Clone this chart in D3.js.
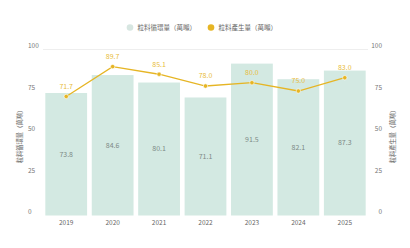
<!DOCTYPE html>
<html><head><meta charset="utf-8">
<script src="https://cdn.jsdelivr.net/npm/d3@7"></script>
<style>body{margin:0;background:#fff}svg{display:block}</style>
</head><body>
<svg id="c" width="410" height="248"></svg>
<script>
const years = ["2019","2020","2021","2022","2023","2024","2025"];
const recycled = [73.8, 84.6, 80.1, 71.1, 91.5, 82.1, 87.3];
const produced = [71.7, 89.7, 85.1, 78.0, 80.0, 75.0, 83.0];
const yTicks = [0, 25, 50, 75, 100];
const seriesNames = ["粒料循環量（萬噸）", "粒料產生量（萬噸）"];
const leftTitle = "粒料循環量（萬噸）";
const rightTitle = "粒料產生量（萬噸）";

const font = "'Noto Sans CJK TC','Noto Sans',sans-serif";
const barColor = "#d3e9e2";
const lineColor = "#e6b524";
const svg = d3.select("#c");
const m = {l: 43, r: 368, t: 49.5, b: 215.5};

const x = d3.scaleBand().domain(years).range([m.l, m.r]).paddingInner(0.1).paddingOuter(0.05);
const y = d3.scaleLinear().domain([0, 100]).range([m.b, m.t]);

// top grid line
svg.append("line").attr("x1", m.l).attr("x2", m.r).attr("y1", y(100)).attr("y2", y(100))
  .attr("stroke", "#eeeeee").attr("stroke-width", 1);

// bars
svg.selectAll("rect.bar").data(recycled).enter().append("rect")
  .attr("x", (d,i) => x(years[i])).attr("width", x.bandwidth())
  .attr("y", d => y(d)).attr("height", d => y(0) - y(d))
  .attr("fill", barColor);

// bar labels
svg.selectAll("text.bl").data(recycled).enter().append("text")
  .attr("x", (d,i) => x(years[i]) + x.bandwidth()/2)
  .attr("y", d => (y(d) + y(0))/2)
  .attr("dy", "0.35em").attr("text-anchor", "middle")
  .attr("font-family", font).attr("font-size", 7).attr("fill", "#7d8a86")
  .text(d => d.toFixed(1));

// line
const cx = i => x(years[i]) + x.bandwidth()/2;
const line = d3.line().x((d,i) => cx(i)).y(d => y(d));
svg.append("path").datum(produced).attr("d", line)
  .attr("fill", "none").attr("stroke", lineColor).attr("stroke-width", 1.3);
svg.selectAll("circle.pt").data(produced).enter().append("circle")
  .attr("cx", (d,i) => cx(i)).attr("cy", d => y(d)).attr("r", 2.2)
  .attr("fill", lineColor).attr("stroke", "#fff").attr("stroke-width", 0.6);
svg.selectAll("text.ll").data(produced).enter().append("text")
  .attr("x", (d,i) => cx(i)).attr("y", d => y(d) - 10)
  .attr("dy", "0.35em").attr("text-anchor", "middle")
  .attr("font-family", font).attr("font-size", 7).attr("fill", "#e8bc3a")
  .text(d => d.toFixed(1));

// x axis labels
svg.selectAll("text.xl").data(years).enter().append("text")
  .attr("x", d => x(d) + x.bandwidth()/2).attr("y", 223)
  .attr("dy", "0.35em").attr("text-anchor", "middle")
  .attr("font-family", font).attr("font-size", 6.5).attr("fill", "#666")
  .text(d => d);

// y axis labels
svg.selectAll("text.yl").data(yTicks).enter().append("text")
  .attr("x", 28).attr("y", d => y(d) - 3.5).attr("dy", "0.35em")
  .attr("text-anchor", "start")
  .attr("font-family", font).attr("font-size", 6.5).attr("fill", "#777")
  .text(d => d);
svg.selectAll("text.yr").data(yTicks).enter().append("text")
  .attr("x", 382).attr("y", d => y(d) - 3.5).attr("dy", "0.35em")
  .attr("text-anchor", "end")
  .attr("font-family", font).attr("font-size", 6.5).attr("fill", "#777")
  .text(d => d);

// axis titles
svg.append("text").attr("transform", "translate(19.5,135) rotate(-90)")
  .attr("text-anchor", "middle").attr("dy", "0.35em")
  .attr("font-family", font).attr("font-size", 6.3).attr("fill", "#666").text(leftTitle);
svg.append("text").attr("transform", "translate(392.5,135) rotate(-90)")
  .attr("text-anchor", "middle").attr("dy", "0.35em")
  .attr("font-family", font).attr("font-size", 6.3).attr("fill", "#666").text(rightTitle);

// legend
const lg = [{x: 130, c: "#d7e6e1"}, {x: 211, c: lineColor}];
lg.forEach((l, i) => {
  svg.append("circle").attr("cx", l.x).attr("cy", 27.5).attr("r", 3.3).attr("fill", l.c);
  svg.append("text").attr("x", l.x + 7.5).attr("y", 27.5).attr("dy", "0.35em")
    .attr("font-family", font).attr("font-size", 6.5).attr("fill", "#666").text(seriesNames[i]);
});
</script>
</body></html>
